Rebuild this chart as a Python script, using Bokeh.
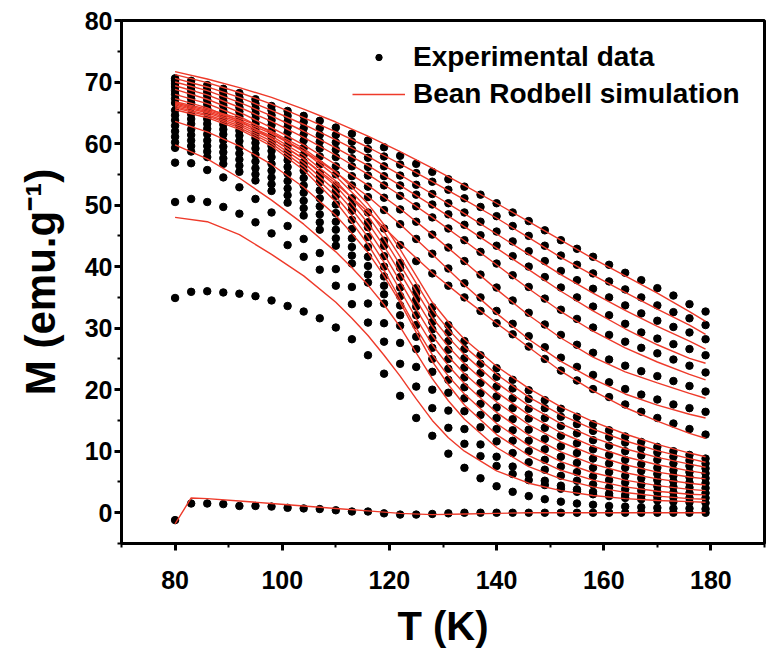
from bokeh.plotting import figure
from bokeh.models import Range1d, SingleIntervalTicker, Legend, LegendItem
from bokeh.embed import file_html
from bokeh.resources import INLINE

# Temperatures (K) of the measured points
T = [80, 83, 86, 89, 92, 95, 98, 101, 104, 107, 110, 113, 116, 119, 122, 125, 128,
     131, 134, 137, 140, 143, 146, 149, 152, 155, 158, 161, 164, 167, 170, 173, 176, 179]

# Experimental magnetization curves M (emu/g), lowest field first
m_c00 = [-1.2, 1.5, 1.5, 1.4, 1.1, 1.1, 1.0, 0.8, 0.7, 0.6, 0.4, 0.2, 0.2, -0.1, -0.3, -0.3, -0.2,
         -0.1, 0.0, 0.0, 0.0, 0.0, 0.0, 0.0, 0.0, 0.0, 0.0, 0.0, 0.0, 0.0, 0.0, 0.0, 0.0, 0.0]
m_c01 = [34.9, 35.9, 36.0, 35.8, 35.6, 35.2, 34.5, 33.6, 32.7, 31.6, 30.1, 28.2, 25.6, 22.6, 19.0, 15.4, 12.5,
         9.6, 7.3, 5.6, 4.3, 3.4, 2.7, 2.2, 1.8, 1.5, 1.3, 1.1, 1.0, 0.9, 0.8, 0.7, 0.7, 0.6]
m_c02 = [50.5, 51.0, 50.5, 49.7, 48.6, 47.2, 45.4, 43.5, 41.6, 39.5, 36.9, 33.9, 30.9, 27.8, 24.2, 20.5, 17.0,
         13.8, 11.2, 9.2, 7.6, 6.3, 5.3, 4.5, 3.9, 3.4, 3.0, 2.7, 2.4, 2.2, 2.0, 1.8, 1.7, 1.6]
m_c03 = [56.9, 56.8, 55.7, 54.5, 52.9, 51.0, 48.8, 46.6, 44.5, 42.2, 39.6, 36.7, 34.0, 30.8, 27.6, 23.7, 20.0,
         16.6, 13.6, 11.1, 9.1, 7.5, 6.2, 5.2, 4.4, 3.8, 3.4, 3.1, 2.9, 2.7, 2.6, 2.5, 2.4, 2.4]
m_c04 = [59.3, 58.7, 57.8, 56.7, 55.4, 54.0, 52.3, 50.4, 48.3, 46.0, 43.4, 40.5, 37.4, 34.0, 30.4, 26.6, 22.9,
         19.5, 16.5, 13.9, 11.6, 9.7, 8.2, 7.0, 6.0, 5.2, 4.6, 4.1, 3.8, 3.6, 3.4, 3.3, 3.2, 3.2]
m_c05 = [60.2, 59.6, 58.7, 57.6, 56.4, 55.0, 53.4, 51.6, 49.5, 47.2, 44.6, 41.8, 38.7, 35.5, 32.1, 28.6, 25.0,
         21.6, 18.6, 15.9, 13.6, 11.7, 10.0, 8.6, 7.5, 6.6, 5.9, 5.3, 4.9, 4.6, 4.3, 4.2, 4.1, 4.0]
m_c06 = [61.1, 60.5, 59.6, 58.6, 57.4, 56.0, 54.5, 52.7, 50.7, 48.5, 46.0, 43.2, 40.1, 36.9, 33.7, 30.5, 26.8,
         23.4, 20.4, 17.7, 15.4, 13.4, 11.7, 10.3, 9.1, 8.1, 7.3, 6.6, 6.0, 5.6, 5.3, 5.1, 4.9, 4.8]
m_c07 = [62.0, 61.4, 60.5, 59.5, 58.4, 57.1, 55.6, 53.9, 52.0, 49.8, 47.3, 44.6, 41.6, 38.4, 35.2, 32.1, 28.4,
         25.0, 22.0, 19.4, 17.1, 15.2, 13.5, 12.0, 10.8, 9.7, 8.8, 8.0, 7.3, 6.8, 6.3, 6.0, 5.8, 5.6]
m_c08 = [62.9, 62.3, 61.5, 60.5, 59.4, 58.2, 56.7, 55.1, 53.2, 51.1, 48.7, 46.1, 43.2, 40.0, 36.6, 33.5, 29.8,
         26.5, 23.6, 21.1, 18.9, 17.0, 15.3, 13.8, 12.5, 11.3, 10.3, 9.4, 8.6, 7.9, 7.3, 6.9, 6.6, 6.4]
m_c09 = [63.8, 63.2, 62.4, 61.5, 60.4, 59.2, 57.8, 56.2, 54.4, 52.4, 50.1, 47.6, 44.8, 41.7, 38.3, 34.6, 31.0,
         27.9, 25.1, 22.7, 20.5, 18.6, 16.9, 15.4, 14.1, 12.9, 11.8, 10.9, 10.0, 9.3, 8.6, 8.0, 7.6, 7.2]
m_c10 = [64.6, 64.0, 63.2, 62.3, 61.3, 60.1, 58.8, 57.3, 55.6, 53.7, 51.5, 49.1, 46.4, 43.4, 39.8, 35.7, 32.3,
         29.3, 26.6, 24.2, 22.1, 20.2, 18.5, 17.0, 15.6, 14.4, 13.3, 12.3, 11.4, 10.5, 9.8, 9.1, 8.5, 8.0]
m_c11 = [65.4, 64.8, 64.0, 63.1, 62.1, 60.9, 59.6, 58.1, 56.4, 54.5, 52.3, 49.9, 47.2, 44.2, 40.6, 36.5, 33.4,
         30.5, 27.9, 25.6, 23.5, 21.6, 19.9, 18.3, 16.9, 15.6, 14.4, 13.4, 12.4, 11.5, 10.7, 10.0, 9.4, 8.8]
m_c12 = [66.6, 65.9, 65.0, 64.0, 62.9, 61.6, 60.2, 58.7, 57.0, 55.2, 53.2, 51.1, 48.8, 46.2, 43.5, 40.9, 38.9,
         36.9, 35.0, 32.8, 30.8, 29.0, 27.0, 25.0, 23.1, 21.5, 20.1, 18.8, 17.6, 16.4, 15.4, 14.5, 13.6, 12.7]
m_c13 = [67.3, 66.6, 65.7, 64.7, 63.6, 62.4, 61.1, 59.7, 58.2, 56.6, 55.0, 53.2, 51.3, 49.2, 46.9, 44.5, 42.1,
         39.7, 37.3, 35.0, 32.8, 30.7, 28.7, 26.9, 25.2, 23.7, 22.4, 21.2, 20.1, 19.2, 18.4, 17.6, 17.0, 16.4]
m_c14 = [68.0, 67.3, 66.4, 65.4, 64.4, 63.2, 62.0, 60.7, 59.3, 57.9, 56.3, 54.7, 53.0, 51.2, 49.3, 47.3, 45.2,
         43.1, 40.9, 38.7, 36.6, 34.5, 32.5, 30.6, 28.9, 27.3, 26.0, 24.9, 23.9, 23.0, 22.2, 21.4, 20.6, 19.7]
m_c15 = [68.6, 68.0, 67.1, 66.2, 65.2, 64.1, 63.0, 61.8, 60.5, 59.2, 57.8, 56.3, 54.8, 53.2, 51.5, 49.8, 48.0,
         46.2, 44.3, 42.4, 40.5, 38.6, 36.7, 34.8, 33.0, 31.5, 30.1, 28.9, 27.8, 26.8, 25.9, 24.9, 23.9, 22.8]
m_c16 = [69.2, 68.6, 67.8, 66.9, 65.9, 64.9, 63.8, 62.7, 61.5, 60.3, 59.0, 57.6, 56.2, 54.7, 53.2, 51.7, 50.1,
         48.5, 46.8, 45.1, 43.4, 41.7, 40.0, 38.3, 36.6, 35.0, 33.5, 32.1, 30.7, 29.3, 28.3, 27.4, 26.6, 25.6]
m_c17 = [69.7, 69.2, 68.4, 67.6, 66.7, 65.7, 64.6, 63.6, 62.5, 61.4, 60.2, 59.0, 57.7, 56.3, 54.8, 53.3, 51.8,
         50.3, 48.8, 47.3, 45.7, 44.1, 42.5, 40.9, 39.3, 37.8, 36.4, 35.0, 33.7, 32.4, 31.2, 30.2, 29.3, 28.2]
m_c18 = [70.2, 69.7, 69.0, 68.3, 67.5, 66.5, 65.4, 64.5, 63.5, 62.5, 61.4, 60.3, 59.1, 57.9, 56.6, 55.2, 53.8,
         52.5, 51.1, 49.7, 48.2, 46.6, 45.0, 43.4, 41.8, 40.3, 38.9, 37.6, 36.3, 35.0, 33.7, 32.6, 31.6, 30.5]
m_c19 = [70.6, 70.2, 69.5, 68.9, 68.2, 67.2, 66.1, 65.3, 64.5, 63.7, 62.6, 61.6, 60.5, 59.4, 58.0, 56.7, 55.4,
         54.2, 53.0, 51.7, 50.3, 48.8, 47.4, 45.9, 44.3, 42.9, 41.6, 40.3, 39.0, 37.8, 36.5, 35.3, 33.9, 32.7]

# Bean-Rodbell simulation curves
T_sim0 = [80, 83, 86, 92, 98, 104, 110, 116, 122, 128, 134, 140, 146, 152, 158, 164, 170, 176, 179]
sim_c00 = [-1.8, 2.4, 2.3, 1.9, 1.5, 1.1, 0.7, 0.3, -0.1, -0.3, -0.2, -0.1, 0.0, 0.0, 0.0, 0.0, 0.0, 0.0, 0.0]

T_sim_lo = [80, 86, 92, 98, 104, 110, 113, 116, 119, 122, 125, 128, 131, 134, 140, 146, 152, 158, 164, 170, 176, 179]
sim_c02 = [48.0, 47.3, 45.2, 42.0, 38.5, 34.2, 31.6, 28.8, 25.6, 22.2, 18.5, 15.0, 12.2, 10.0, 6.8, 4.8, 3.6, 2.8, 2.3, 2.0, 1.8, 1.7]
sim_c03 = [59.8, 57.5, 54.4, 50.8, 46.9, 42.4, 39.8, 37.0, 33.8, 30.2, 26.0, 21.8, 18.2, 15.2, 10.6, 7.5, 5.5, 4.2, 3.3, 2.7, 2.3, 2.2]
sim_c04 = [63.6, 61.9, 59.6, 56.6, 52.9, 48.3, 45.4, 42.3, 38.5, 34.2, 29.3, 24.6, 20.8, 17.5, 12.7, 9.3, 6.9, 5.3, 4.2, 3.5, 3.0, 2.9]
sim_c05 = [65.5, 64.2, 62.3, 59.6, 55.7, 50.5, 47.2, 43.6, 39.4, 34.7, 30.0, 25.7, 22.2, 19.3, 14.5, 10.9, 8.3, 6.5, 5.3, 4.4, 3.8, 3.6]
sim_c06 = [65.8, 64.5, 62.6, 60.0, 56.3, 51.4, 48.3, 44.8, 40.7, 36.2, 31.6, 27.3, 23.9, 21.0, 16.3, 12.6, 9.9, 7.9, 6.5, 5.5, 4.8, 4.5]
sim_c07 = [66.0, 64.7, 62.9, 60.4, 56.9, 52.3, 49.3, 46.0, 42.0, 37.6, 33.1, 28.8, 25.4, 22.6, 18.0, 14.3, 11.5, 9.4, 7.8, 6.6, 5.8, 5.5]
sim_c08 = [66.2, 65.0, 63.2, 60.8, 57.5, 53.1, 50.2, 47.1, 43.3, 39.0, 34.6, 30.3, 27.0, 24.2, 19.6, 15.9, 13.0, 10.8, 9.1, 7.8, 6.8, 6.4]
sim_c09 = [66.4, 65.2, 63.5, 61.2, 58.1, 53.9, 51.1, 48.2, 44.5, 40.3, 36.0, 31.7, 28.5, 25.7, 21.1, 17.4, 14.5, 12.2, 10.4, 9.0, 7.9, 7.4]
sim_c10 = [66.6, 65.4, 63.8, 61.6, 58.7, 54.7, 52.1, 49.3, 45.7, 41.6, 37.3, 33.0, 29.8, 27.0, 22.5, 18.8, 15.9, 13.6, 11.7, 10.1, 8.8, 8.2]
sim_c11 = [66.8, 65.6, 64.1, 62.0, 59.2, 55.4, 52.9, 50.2, 46.8, 42.8, 38.5, 34.2, 31.0, 28.2, 23.8, 20.2, 17.2, 14.8, 12.8, 11.1, 9.7, 9.1]

T_sim_hi = [80, 86, 92, 98, 104, 110, 116, 122, 128, 134, 140, 146, 152, 158, 164, 170, 176, 179]
sim_c12 = [67.3, 65.8, 63.7, 60.9, 57.5, 53.5, 48.9, 43.8, 39.0, 34.8, 30.8, 26.9, 23.0, 19.8, 17.1, 14.9, 12.9, 12.1]
sim_c13 = [68.0, 66.5, 64.4, 61.8, 58.8, 55.3, 51.4, 46.9, 42.0, 37.0, 32.4, 28.2, 24.6, 21.7, 19.3, 17.5, 16.0, 15.4]
sim_c14 = [68.8, 67.2, 65.1, 62.6, 59.8, 56.6, 53.2, 49.4, 45.2, 40.8, 36.3, 32.1, 28.4, 25.3, 22.9, 21.1, 19.4, 18.6]
sim_c15 = [69.4, 67.9, 65.9, 63.6, 61.0, 58.1, 55.0, 51.6, 48.0, 44.2, 40.3, 36.4, 32.7, 29.5, 26.8, 24.5, 22.5, 21.6]
sim_c16 = [70.0, 68.6, 66.7, 64.5, 62.0, 59.3, 56.4, 53.2, 49.9, 46.5, 43.0, 39.5, 36.0, 32.8, 29.9, 27.3, 25.1, 24.3]
sim_c17 = [70.6, 69.2, 67.5, 65.4, 63.1, 60.6, 57.9, 54.9, 51.8, 48.6, 45.3, 42.0, 38.7, 35.7, 32.9, 30.3, 27.9, 26.6]
sim_c18 = [71.2, 69.9, 68.3, 66.4, 64.2, 61.9, 59.4, 56.7, 53.8, 50.9, 47.9, 44.7, 41.5, 38.6, 35.8, 33.1, 30.5, 29.0]
sim_c19 = [71.7, 70.5, 69.1, 67.5, 65.6, 63.5, 61.2, 58.7, 56.0, 53.2, 50.3, 47.3, 44.3, 41.3, 38.5, 35.7, 32.7, 31.1]

exp_curves = [m_c00, m_c01, m_c02, m_c03, m_c04, m_c05, m_c06, m_c07, m_c08, m_c09,
              m_c10, m_c11, m_c12, m_c13, m_c14, m_c15, m_c16, m_c17, m_c18, m_c19]
sim_lo = [sim_c02, sim_c03, sim_c04, sim_c05, sim_c06, sim_c07, sim_c08, sim_c09, sim_c10, sim_c11]
sim_hi = [sim_c12, sim_c13, sim_c14, sim_c15, sim_c16, sim_c17, sim_c18, sim_c19]

FONT = "Liberation Sans"
RED = "#EE3A2A"

p = figure(width=766, height=650, output_backend="svg", toolbar_location=None,
           x_range=Range1d(70, 190), y_range=Range1d(-5, 80),
           min_border_left=121, min_border_right=2, min_border_top=20, min_border_bottom=107)

xs_pts = []
ys_pts = []
for c in exp_curves:
    xs_pts.extend(T)
    ys_pts.extend(c)
dots = p.scatter(xs_pts, ys_pts, size=7.5, color="black", marker="circle")

line_xs = [T_sim0] + [T_sim_lo for _ in sim_lo] + [T_sim_hi for _ in sim_hi]
line_ys = [sim_c00] + sim_lo + sim_hi
lines = p.multi_line(line_xs, line_ys, line_color=RED, line_width=1.4)

legend = Legend(items=[LegendItem(label="Experimental data", renderers=[dots]),
                       LegendItem(label="Bean Rodbell simulation", renderers=[lines])],
                location=(231, 433))
legend.border_line_color = None
legend.background_fill_alpha = 0
legend.label_text_font = FONT
legend.label_text_font_style = "bold"
legend.label_text_font_size = "28px"
legend.label_text_color = "black"
legend.glyph_width = 53
legend.glyph_height = 16
legend.label_height = 30
legend.spacing = 5
legend.padding = 5
legend.margin = 0
legend.label_standoff = 8
p.add_layout(legend)

p.xaxis.ticker = SingleIntervalTicker(interval=20, num_minor_ticks=2)
p.yaxis.ticker = SingleIntervalTicker(interval=10, num_minor_ticks=2)
p.xaxis.axis_label = "T (K)"
p.yaxis.axis_label = "M (emu.g\u207b\u00b9)"

for ax in (p.xaxis[0], p.yaxis[0]):
    ax.axis_line_width = 3
    ax.axis_line_color = "black"
    ax.major_tick_line_width = 3
    ax.minor_tick_line_width = 2
    ax.major_tick_out = 7
    ax.major_tick_in = 0
    ax.minor_tick_out = 4
    ax.minor_tick_in = 0
    ax.major_label_text_font = FONT
    ax.major_label_text_font_style = "bold"
    ax.major_label_text_font_size = "25px"
    ax.major_label_text_color = "black"
    ax.axis_label_text_font = FONT
    ax.axis_label_text_font_style = "bold"
    ax.axis_label_text_color = "black"

p.xaxis.axis_label_text_font_size = "40px"
p.yaxis.axis_label_text_font_size = "42px"
p.xaxis.major_label_standoff = 20
p.xaxis.axis_label_standoff = 12
p.yaxis.major_label_standoff = 2
p.yaxis.axis_label_standoff = 18

p.grid.visible = False
p.outline_line_color = "black"
p.outline_line_width = 3

open("out.html", "w").write(file_html(p, INLINE))
